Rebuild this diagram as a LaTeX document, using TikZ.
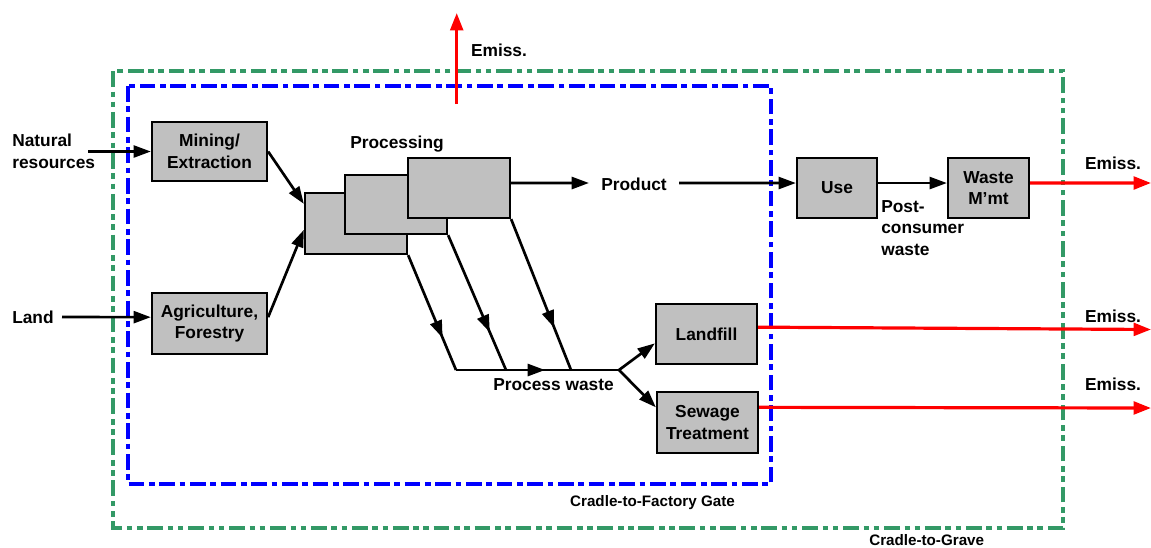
\documentclass[tikz,border=0pt]{standalone}
\usepackage{fontspec}
\setmainfont{Liberation Sans}
\usetikzlibrary{arrows.meta,decorations.markings,calc}
\definecolor{boxgray}{HTML}{C0C0C0}
\definecolor{gravegreen}{HTML}{339966}
\definecolor{gateblue}{HTML}{0000FF}
\begin{document}
\begin{tikzpicture}[x=0.75pt,y=-0.75pt,
  txt/.style={font=\fontsize{13}{16.3}\selectfont\bfseries, inner sep=0pt},
  small/.style={font=\fontsize{11.4}{14}\selectfont\bfseries, inner sep=0pt},
  box/.style 2 args={draw=black, fill=boxgray, line width=1.7pt, align=center,
    txt, minimum width=#1, minimum height=#2},
  blacktip/.style={-{Triangle[length=13pt,width=9pt]}},
  flow/.style={line width=2pt, blacktip},
  plain/.style={line width=2pt},
  emit/.style={red, line width=2.4pt, -{Triangle[length=13pt,width=9.5pt]}},
  midarrow/.style={postaction={decorate}, decoration={markings,
    mark=at position #1 with {\arrow{Triangle[length=13pt,width=9pt]}}}},
  gate/.style={gateblue, line width=2.7pt, line cap=butt,
    dash pattern=on 11.8pt off 3.4pt on 4.2pt off 3.6pt},
  grave/.style={gravegreen, line width=2.5pt, line cap=butt,
    dash pattern=on 11.8pt off 3.6pt on 4.2pt off 3.4pt on 4.2pt off 3.5pt}
]
\useasboundingbox (0,0) rectangle (1151,547);

% system boundaries
\draw[grave] (113,71) rectangle (1063,528);
\draw[gate] (128,86) rectangle (771,484);
\node[small, anchor=base] (gatelbl) at (652.5,506) {Cradle-to-Factory Gate};
\node[small, anchor=base] (gravelbl) at (926.7,545.5) {Cradle-to-Grave};

% raw-material stages
\node[box={86.25pt}{44.25pt}] (mine) at (209.5,151.5) {Mining/\\Extraction};
\node[box={86.25pt}{45.75pt}] (agri) at (209.5,323.5) {Agriculture,\\Forestry};

% stacked processing steps
\node[box={76.5pt}{45.75pt}] (p1) at (356,223.5) {};
\node[box={76.5pt}{44.25pt}] (p2) at (396,204.5) {};
\node[box={76.5pt}{45pt}] (p3) at (459,188) {};
\node[txt, anchor=base] (proclbl) at (397,148) {Processing};

% downstream stages
\node[box={60pt}{45pt}] (use) at (837,188) {Use};
\node[box={60.75pt}{45pt}] (wm) at (988.5,188) {Waste\\M'mt};
\node[box={75.75pt}{45pt}] (land) at (706.5,334) {Landfill};
\node[box={75.75pt}{45.75pt}] (sew) at (707.5,422.5) {Sewage\\Treatment};

% inputs
\node[txt, align=left, anchor=north west] (natres) at (12,134) {Natural\\resources};
\node[txt, anchor=west] (landin) at (12,317) {Land};
\coordinate (natstart) at (88,151.5);
\coordinate (landstart) at (62,317);
\draw[flow] (natstart) -- (mine.west);
\draw[flow] (landstart) -- ($(agri.north west)!0.4!(agri.south west)$);

% into processing
\draw[flow] (mine.east) -- ($(p1.north west)!0.19!(p1.south west)$);
\draw[flow] ($(agri.north east)!0.4!(agri.south east)$) -- ($(p1.north west)!0.6!(p1.south west)$);

% product path
\node[txt, anchor=base, inner xsep=9pt] (prod) at (634,190) {Product};
\draw[flow] ($(p3.north east)!0.42!(p3.south east)$) -- (prod.west |- 0,183);
\draw[flow] (prod.east |- 0,183) -- ($(use.north west)!0.42!(use.south west)$);
\draw[flow] ($(use.north east)!0.42!(use.south east)$) -- ($(wm.north west)!0.42!(wm.south west)$);
\node[txt, align=left, anchor=north west] (pcw) at (881,200) {Post-\\consumer\\waste};

% process waste
\coordinate (wa) at (456,370);
\coordinate (wb) at (506,370);
\coordinate (wc) at (571,370);
\coordinate (split) at (619,370);
\draw[plain, midarrow=0.72] (p1.south east) -- (wa);
\draw[plain, midarrow=0.72] (p2.south east) -- (wb);
\draw[plain, midarrow=0.72] (p3.south east) -- (wc);
\draw[plain, midarrow=0.546] (wa) -- (split);
\node[txt, anchor=base] (pwlbl) at (553.5,390.5) {Process waste};
\draw[flow] (split) -- ($(land.north west)!0.65!(land.south west)$);
\draw[flow] (split) -- ($(sew.north west)!0.26!(sew.south west)$);

% emissions
\coordinate (e0a) at (456.7,104);
\coordinate (e0b) at (456.7,13);
\coordinate (e1) at (1151,183);
\coordinate (e2) at (1151,329.5);
\coordinate (e3) at (1151,408);
\draw[emit] (e0a) -- (e0b);
\draw[emit] ($(wm.north east)!0.42!(wm.south east)$) -- (e1);
\draw[emit] ($(land.north east)!0.39!(land.south east)$) -- (e2);
\draw[emit] ($(sew.north east)!0.26!(sew.south east)$) -- (e3);
\node[txt, anchor=base] (em0) at (499,56.7) {Emiss.};
\node[txt, anchor=base] (em1) at (1113,169) {Emiss.};
\node[txt, anchor=base] (em2) at (1113,322.7) {Emiss.};
\node[txt, anchor=base] (em3) at (1113,390) {Emiss.};
\end{tikzpicture}
\end{document}
